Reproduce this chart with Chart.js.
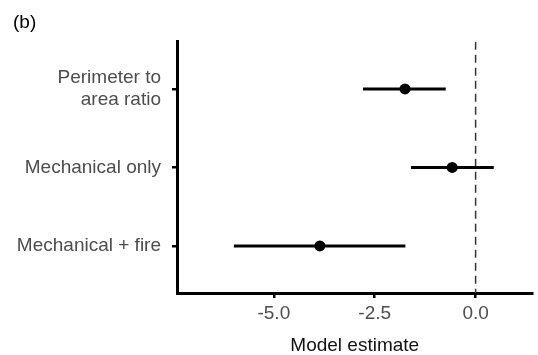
<!DOCTYPE html>
<html>
<head>
<meta charset="utf-8">
<script src="https://cdn.jsdelivr.net/npm/chart.js@4/dist/chart.umd.min.js"></script>
<style>
    body { margin: 0; background: #fff; }
    #wrap { width: 538px; height: 355px; }
</style>
</head>
<body>
<div id="wrap"><canvas id="chart" width="538" height="355"></canvas></div>
<script>
// данные с картинки
const categories = [['Perimeter to', 'area ratio'], 'Mechanical only', 'Mechanical + fire'];
const estimates = [-1.75, -0.58, -3.86];
const lower = [-2.79, -1.60, -5.99];
const upper = [-0.74, 0.45, -1.74];
const xTicks = [-5.0, -2.5, 0.0];
const refValue = 0;

const FONT = "'Liberation Sans', Arial, sans-serif";

function buildDatasets() {
    let sets = [];
    // ошибки (интервалы)
    for (let i = 0; i < categories.length; i++) {
        sets.push({
            type: 'line',
            data: [{ x: lower[i], y: i }, { x: upper[i], y: i }],
            borderColor: '#000',
            borderWidth: 3,
            pointRadius: 0,
            borderCapStyle: 'butt'
        });
    }
    // точки
    sets.push({
        type: 'scatter',
        data: estimates.map((v, i) => ({ x: v, y: i })),
        backgroundColor: '#000',
        borderColor: '#000',
        pointRadius: 5.5,
        borderWidth: 0
    });
    // пунктир на нуле
    sets.push({
        type: 'line',
        data: [{ x: refValue, y: -0.6 }, { x: refValue, y: 2.6 }],
        borderColor: '#333',
        borderWidth: 1.5,
        borderDash: [8, 5],
        pointRadius: 0
    });
    return sets;
}

const ctx = document.getElementById('chart');
const myChart = new Chart(ctx, {
    type: 'scatter',
    data: { datasets: buildDatasets() },
    options: {
        responsive: false,
        animation: false,
        layout: { padding: { left: 13, right: 5, top: 0, bottom: 0 } },
        plugins: {
            legend: { display: false },
            tooltip: { enabled: false },
            title: {
                display: true,
                text: '(b)',
                align: 'start',
                color: '#000',
                font: { family: FONT, size: 19, weight: 'normal', lineHeight: 1.2 },
                padding: { top: 11, bottom: 8 }
            }
        },
        scales: {
            x: {
                type: 'linear',
                min: -7.4,
                max: 1.41,
                afterBuildTicks: (scale) => { scale.ticks = xTicks.map(v => ({ value: v })); },
                afterFit: (scale) => { scale.height = 62; },
                ticks: {
                    color: '#4d4d4d',
                    font: { family: FONT, size: 19 },
                    padding: 4,
                    callback: (v) => Number(v).toFixed(1)
                },
                grid: {
                    drawOnChartArea: false,
                    drawTicks: true,
                    tickLength: 5,
                    color: '#000',
                    lineWidth: 2.5
                },
                border: { display: true, color: '#000', width: 3 },
                title: {
                    display: true,
                    text: 'Model estimate',
                    color: '#111',
                    font: { family: FONT, size: 19, lineHeight: 1 },
                    padding: { top: 0, bottom: 0 }
                }
            },
            y: {
                type: 'linear',
                min: -0.6,
                max: 2.6,
                reverse: true,
                afterBuildTicks: (scale) => { scale.ticks = categories.map((c, i) => ({ value: i })); },
                afterFit: (scale) => { scale.width = 164; },
                ticks: {
                    color: '#4d4d4d',
                    font: { family: FONT, size: 19, lineHeight: 1.15 },
                    padding: 11,
                    callback: (v) => categories[v]
                },
                grid: {
                    drawOnChartArea: false,
                    drawTicks: true,
                    tickLength: 5,
                    color: '#000',
                    lineWidth: 2.5
                },
                border: { display: true, color: '#000', width: 3 }
            }
        }
    }
});
</script>
</body>
</html>
